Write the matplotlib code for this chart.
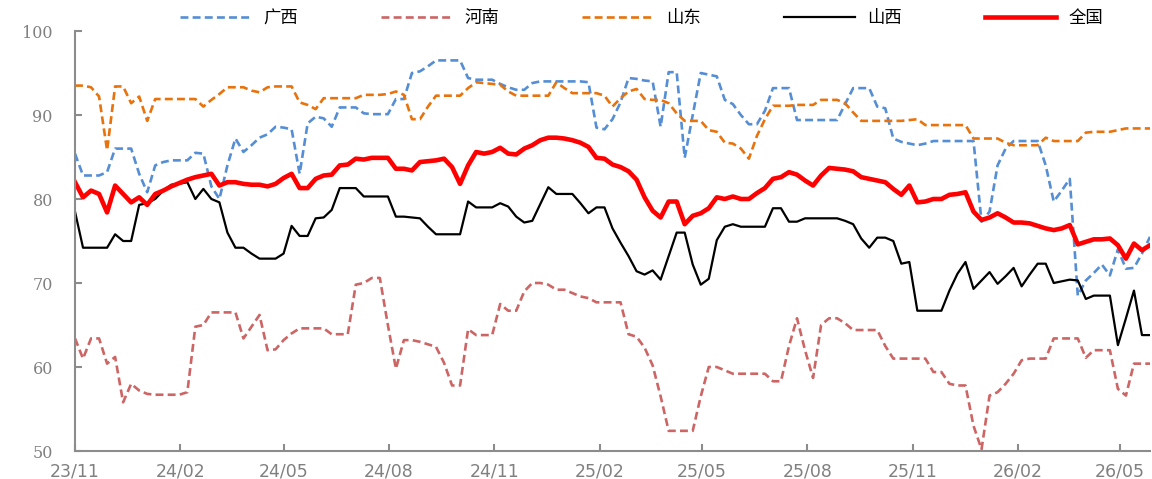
import matplotlib
matplotlib.use("Agg")
import matplotlib.pyplot as plt
import matplotlib.dates as mdates
import pandas as pd

# weekly series, first week = 2023-11-03
dates = pd.date_range("2023-11-03", periods=135, freq="7D")

guangxi = [85.4, 82.8, 82.8, 82.8, 83.2, 86.0, 86.0, 86.0, 83.0, 80.8,
           84.0, 84.4, 84.6, 84.6, 84.6, 85.5, 85.4, 81.5, 80.0, 84.0,
           87.2, 85.6, 86.4, 87.3, 87.7, 88.6, 88.5, 88.3, 83.0, 89.0,
           89.8, 89.6, 88.6, 90.9, 90.9, 90.9, 90.2, 90.1, 90.1, 90.1,
           91.9, 91.9, 95.0, 95.2, 95.8, 96.5, 96.5, 96.5, 96.5, 94.4,
           94.2, 94.2, 94.2, 93.7, 93.3, 93.0, 93.0, 93.8, 94.0, 94.0,
           94.0, 94.0, 94.0, 94.0, 93.9, 88.5, 88.3, 89.5, 91.5, 94.4,
           94.3, 94.1, 94.0, 88.6, 95.1, 95.1, 84.9, 90.0, 95.0, 94.8,
           94.6, 91.8, 91.3, 90.0, 88.9, 88.9, 90.5, 93.2, 93.2, 93.2,
           89.4, 89.4, 89.4, 89.4, 89.4, 89.4, 91.3, 93.2, 93.2, 93.2,
           91.0, 90.8, 87.2, 86.8, 86.6, 86.4, 86.6, 86.9, 86.9, 86.9,
           86.9, 86.9, 86.9, 77.3, 78.5, 84.0, 86.0, 86.9, 86.9, 86.9,
           86.9, 84.0, 79.7, 81.0, 82.4, 68.5, 70.3, 71.2, 72.2, 70.9,
           74.0, 71.7, 71.8, 73.5, 75.5]

henan = [63.4, 61.0, 63.4, 63.4, 60.4, 61.2, 55.8, 58.0, 57.2, 56.8,
         56.7, 56.7, 56.7, 56.7, 57.0, 64.8, 65.0, 66.5, 66.5, 66.5,
         66.5, 63.4, 64.8, 66.2, 62.0, 62.1, 63.2, 64.0, 64.6, 64.6,
         64.6, 64.6, 63.9, 63.9, 63.9, 69.8, 70.0, 70.6, 70.6, 65.0,
         59.8, 63.2, 63.2, 63.0, 62.7, 62.4, 60.5, 57.8, 57.8, 64.5,
         63.8, 63.8, 63.8, 67.5, 66.7, 66.7, 69.0, 70.0, 70.0, 69.8,
         69.2, 69.2, 68.8, 68.4, 68.2, 67.7, 67.7, 67.7, 67.7, 63.9,
         63.6, 62.3, 60.2, 56.5, 52.4, 52.4, 52.4, 52.4, 56.5, 60.0,
         60.0, 59.6, 59.2, 59.2, 59.2, 59.2, 59.2, 58.3, 58.3, 62.5,
         65.8, 62.0, 58.7, 65.0, 65.8, 65.8, 65.2, 64.4, 64.4, 64.4,
         64.4, 62.5, 61.0, 61.0, 61.0, 61.0, 61.0, 59.4, 59.4, 58.0,
         57.8, 57.8, 53.0, 50.2, 56.6, 57.0, 58.0, 59.2, 60.8, 61.0,
         61.0, 61.0, 63.4, 63.4, 63.4, 63.4, 61.1, 62.0, 62.0, 62.0,
         57.4, 56.6, 60.4, 60.4, 60.4]

shandong = [93.5, 93.5, 93.3, 92.2, 85.8, 93.4, 93.4, 91.4, 92.2, 89.3,
            91.9, 91.9, 91.9, 91.9, 91.9, 91.9, 91.0, 91.8, 92.5, 93.3,
            93.3, 93.3, 92.9, 92.7, 93.3, 93.4, 93.4, 93.4, 91.5, 91.2,
            90.7, 92.0, 92.0, 92.0, 92.0, 92.0, 92.4, 92.4, 92.4, 92.5,
            92.8, 92.4, 89.5, 89.5, 91.0, 92.3, 92.3, 92.3, 92.3, 93.2,
            93.9, 93.8, 93.7, 93.6, 92.8, 92.3, 92.3, 92.3, 92.3, 92.3,
            93.9, 93.2, 92.6, 92.6, 92.6, 92.6, 92.3, 91.0, 92.0, 92.8,
            93.1, 91.9, 91.8, 91.8, 91.4, 90.2, 89.3, 89.3, 89.3, 88.2,
            88.0, 86.7, 86.6, 86.0, 84.8, 87.5, 89.5, 91.1, 91.1, 91.1,
            91.2, 91.2, 91.2, 91.8, 91.8, 91.8, 91.4, 90.3, 89.3, 89.3,
            89.3, 89.3, 89.3, 89.3, 89.4, 89.5, 88.8, 88.8, 88.8, 88.8,
            88.8, 88.8, 87.2, 87.2, 87.2, 87.2, 86.7, 86.4, 86.4, 86.4,
            86.4, 87.3, 86.9, 86.9, 86.9, 86.9, 87.9, 88.0, 88.0, 88.0,
            88.2, 88.4, 88.4, 88.4, 88.4]

shanxi = [78.5, 74.2, 74.2, 74.2, 74.2, 75.8, 75.0, 75.0, 79.3, 79.5,
          80.0, 81.0, 81.7, 81.8, 82.0, 80.0, 81.2, 80.0, 79.6, 76.0,
          74.2, 74.2, 73.5, 72.9, 72.9, 72.9, 73.5, 76.8, 75.6, 75.6,
          77.7, 77.8, 78.7, 81.3, 81.3, 81.3, 80.3, 80.3, 80.3, 80.3,
          77.9, 77.9, 77.8, 77.7, 76.7, 75.8, 75.8, 75.8, 75.8, 79.7,
          79.0, 79.0, 79.0, 79.5, 79.1, 77.9, 77.2, 77.4, 79.4, 81.4,
          80.6, 80.6, 80.6, 79.5, 78.3, 79.0, 79.0, 76.5, 74.8, 73.2,
          71.4, 71.0, 71.5, 70.4, 73.2, 76.0, 76.0, 72.2, 69.8, 70.5,
          75.1, 76.7, 77.0, 76.7, 76.7, 76.7, 76.7, 78.9, 78.9, 77.3,
          77.3, 77.7, 77.7, 77.7, 77.7, 77.7, 77.4, 77.0, 75.3, 74.2,
          75.4, 75.4, 75.0, 72.3, 72.5, 66.7, 66.7, 66.7, 66.7, 69.1,
          71.1, 72.5, 69.3, 70.3, 71.3, 69.9, 70.8, 71.8, 69.6, 71.0,
          72.3, 72.3, 70.0, 70.2, 70.4, 70.3, 68.1, 68.5, 68.5, 68.5,
          62.6, 65.8, 69.1, 63.8, 63.8]

national = [82.0, 80.2, 81.0, 80.6, 78.4, 81.6, 80.6, 79.6, 80.2, 79.3,
            80.6, 81.0, 81.5, 81.9, 82.3, 82.6, 82.8, 83.0, 81.6, 82.0,
            82.0, 81.8, 81.7, 81.7, 81.5, 81.8, 82.5, 83.0, 81.3, 81.3,
            82.4, 82.8, 82.9, 84.0, 84.1, 84.8, 84.7, 84.9, 84.9, 84.9,
            83.6, 83.6, 83.4, 84.4, 84.5, 84.6, 84.8, 83.8, 81.8, 84.0,
            85.6, 85.4, 85.6, 86.1, 85.4, 85.3, 86.0, 86.4, 87.0, 87.3,
            87.3, 87.2, 87.0, 86.7, 86.2, 84.9, 84.8, 84.1, 83.8, 83.3,
            82.3, 80.2, 78.6, 77.8, 79.7, 79.7, 77.0, 78.0, 78.3, 78.9,
            80.2, 80.0, 80.3, 80.0, 80.0, 80.7, 81.3, 82.4, 82.6, 83.2,
            82.9, 82.2, 81.6, 82.8, 83.7, 83.6, 83.5, 83.3, 82.6, 82.4,
            82.2, 82.0, 81.2, 80.5, 81.6, 79.6, 79.7, 80.0, 80.0, 80.5,
            80.6, 80.8, 78.5, 77.5, 77.8, 78.3, 77.8, 77.2, 77.2, 77.1,
            76.8, 76.5, 76.3, 76.5, 76.9, 74.6, 74.9, 75.2, 75.2, 75.3,
            74.5, 72.9, 74.7, 73.9, 74.5]

labels = ["广西", "河南", "山东", "山西", "全国"]

fig = plt.figure(figsize=(11.52, 4.79), dpi=100)
ax = fig.add_axes([75 / 1152, 28 / 479, 1075 / 1152, 420 / 479])

ax.plot(dates, guangxi, color="#558ed5", lw=1.9, ls=(0, (3, 1.6)), label=labels[0])
ax.plot(dates, henan, color="#cd6565", lw=1.9, ls=(0, (3, 1.6)), label=labels[1])
ax.plot(dates, shandong, color="#e8720c", lw=1.9, ls=(0, (3, 1.6)), label=labels[2])
ax.plot(dates, shanxi, color="black", lw=1.6, label=labels[3])
ax.plot(dates, national, color="#ff0000", lw=3.3, label=labels[4])

ax.set_ylim(50, 100)
ax.set_yticks(range(50, 101, 10))
ax.set_xlim(dates[0], dates[-1])
ticks = pd.date_range("2023-11-03", periods=11, freq=pd.DateOffset(months=3))
ax.set_xticks(ticks)
ax.xaxis.set_major_formatter(mdates.DateFormatter("%y/%m"))

for s in ["top", "right"]:
    ax.spines[s].set_visible(False)
for s in ["left", "bottom"]:
    ax.spines[s].set_color("#8c8c8c")
    ax.spines[s].set_linewidth(1.5)

ax.tick_params(axis="both", direction="in", length=5, width=1.5, color="#8c8c8c")
ax.tick_params(axis="y", pad=16, labelsize=11.5, labelcolor="#808080")
ax.tick_params(axis="x", pad=8, labelsize=12.5, labelcolor="#808080")
for t in ax.get_yticklabels():
    t.set_family("DejaVu Serif")
for t in ax.get_xticklabels():
    t.set_family("DejaVu Sans")

ax.legend(loc="center", bbox_to_anchor=(0.527, 1.03), ncol=5, frameon=False,
          prop={"family": ["Noto Sans CJK SC", "DejaVu Sans"], "size": 12.5},
          handlelength=4.1, columnspacing=4.8, handletextpad=0.7)

fig.savefig("out.png", dpi=100)
